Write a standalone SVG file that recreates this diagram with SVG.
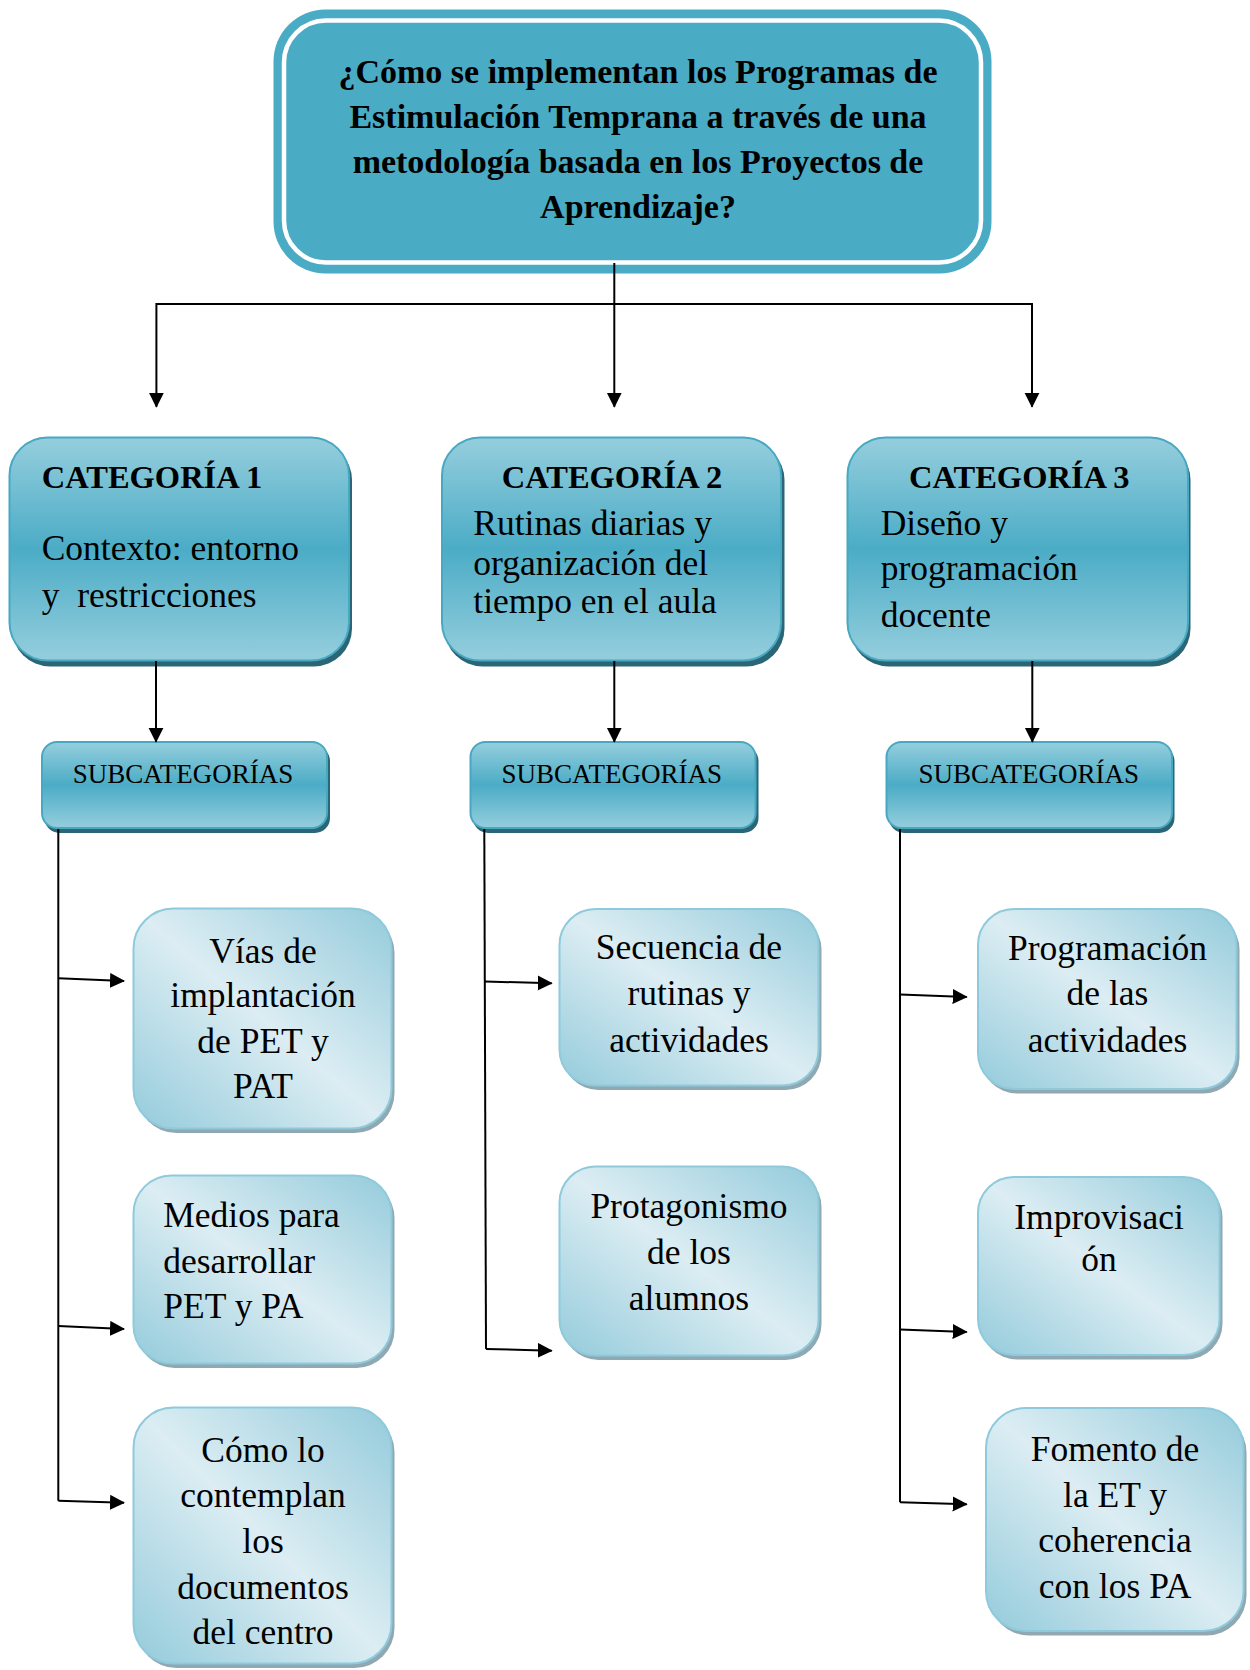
<svg xmlns="http://www.w3.org/2000/svg" width="1250" height="1670" viewBox="0 0 1250 1670">
<defs>
<style>
.txt{font-family:"Liberation Serif","Times New Roman",serif;fill:#000}
.b{font-weight:bold}
.q{font-size:34px}
.cat{font-size:32.5px}
.body{font-size:35.5px}
.sub{font-size:27px}
.mid{text-anchor:middle}
.line{stroke:#000;stroke-width:2;fill:none}
.catbox{fill:url(#gCat);stroke:#47a8c1;stroke-width:2}
.catsh{fill:#2a6676}
.lbox{fill:url(#gLight);stroke:#8ecadb;stroke-width:2}
.lsh{fill:#8fa8b2}
</style>
<linearGradient id="gCat" x1="0" y1="0" x2="0" y2="1">
<stop offset="0" stop-color="#95cedd"/>
<stop offset="0.5" stop-color="#4bacc6"/>
<stop offset="1" stop-color="#95cedd"/>
</linearGradient>
<linearGradient id="gLight" x1="0" y1="1" x2="1" y2="0">
<stop offset="0" stop-color="#94cbdb"/>
<stop offset="0.5" stop-color="#dcedf3"/>
<stop offset="1" stop-color="#94cbdb"/>
</linearGradient>
<marker id="arr" markerUnits="userSpaceOnUse" markerWidth="16" markerHeight="16" refX="14" refY="7.5" orient="auto">
<path d="M0,0 L15,7.5 L0,15 z" fill="#000"/>
</marker>
</defs>
<rect width="1250" height="1670" fill="#fff"/>

<g id="root">
<rect x="273.5" y="9.5" width="718" height="264" rx="52" fill="#4aabc5"/>
<rect x="284" y="20.5" width="697" height="242" rx="42" fill="#4aabc5" stroke="#fff" stroke-width="4.5"/>
<text class="txt b q mid" x="638" y="83.3">¿Cómo se implementan los Programas de</text>
<text class="txt b q mid" x="638" y="128.3">Estimulación Temprana a través de una</text>
<text class="txt b q mid" x="638" y="173.3">metodología basada en los Proyectos de</text>
<text class="txt b q mid" x="638" y="218.3">Aprendizaje?</text>
</g>

<g id="cat1">
<rect class="catsh" x="12" y="442" width="340" height="224.5" rx="38"/>
<rect class="catbox" x="9.5" y="437.5" width="339.5" height="223" rx="38"/>
<text class="txt b cat" x="41.7" y="488.3">CATEGORÍA 1</text>
<text class="txt body" x="41.7" y="560">Contexto: entorno</text>
<text class="txt body" x="41.7" y="606.7" xml:space="preserve">y  restricciones</text>
</g>

<g id="cat2">
<rect class="catsh" x="444.5" y="442" width="340" height="224.5" rx="38"/>
<rect class="catbox" x="442" y="437.5" width="339" height="223" rx="38"/>
<text class="txt b cat mid" x="612" y="488.3">CATEGORÍA 2</text>
<text class="txt body" x="473.3" y="535">Rutinas diarias y</text>
<text class="txt body" x="473.3" y="575">organización del</text>
<text class="txt body" x="473.3" y="613.3">tiempo en el aula</text>
</g>

<g id="cat3">
<rect class="catsh" x="850.5" y="442" width="340" height="224.5" rx="38"/>
<rect class="catbox" x="847.5" y="437.5" width="340.5" height="223" rx="38"/>
<text class="txt b cat mid" x="1019.3" y="488.3">CATEGORÍA 3</text>
<text class="txt body" x="880.7" y="535">Diseño y</text>
<text class="txt body" x="880.7" y="580">programación</text>
<text class="txt body" x="880.7" y="626.7">docente</text>
</g>

<g id="sub1">
<rect class="catsh" x="44.5" y="746" width="285.5" height="87" rx="15"/>
<rect class="catbox" x="42" y="742" width="285" height="86" rx="15"/>
<text class="txt sub mid" x="183" y="782.7">SUBCATEGORÍAS</text>
</g>

<g id="sub2">
<rect class="catsh" x="473" y="746" width="285.5" height="87" rx="15"/>
<rect class="catbox" x="470.5" y="742" width="285" height="86" rx="15"/>
<text class="txt sub mid" x="611.8" y="782.7">SUBCATEGORÍAS</text>
</g>

<g id="sub3">
<rect class="catsh" x="889" y="746" width="285.5" height="87" rx="15"/>
<rect class="catbox" x="886.5" y="742" width="285.5" height="86" rx="15"/>
<text class="txt sub mid" x="1028.8" y="782.7">SUBCATEGORÍAS</text>
</g>

<g id="sc1a">
<rect class="lsh" x="136.5" y="913" width="258" height="220" rx="40"/>
<rect class="lbox" x="133.5" y="908.5" width="258" height="220" rx="40"/>
<text class="txt body mid" x="263" y="962.7">Vías de</text>
<text class="txt body mid" x="263" y="1006.7">implantación</text>
<text class="txt body mid" x="263" y="1052.7">de PET y</text>
<text class="txt body mid" x="263" y="1098.3">PAT</text>
</g>

<g id="sc1b">
<rect class="lsh" x="136.5" y="1180" width="258" height="188" rx="38"/>
<rect class="lbox" x="133.5" y="1175.5" width="258" height="188" rx="38"/>
<text class="txt body" x="163.3" y="1227.3">Medios para</text>
<text class="txt body" x="163.3" y="1273.3">desarrollar</text>
<text class="txt body" x="163.3" y="1318.3">PET y PA</text>
</g>

<g id="sc1c">
<rect class="lsh" x="136.5" y="1412" width="258" height="256" rx="40"/>
<rect class="lbox" x="133.5" y="1407.5" width="258" height="256" rx="40"/>
<text class="txt body mid" x="263" y="1461.7">Cómo lo</text>
<text class="txt body mid" x="263" y="1507.3">contemplan</text>
<text class="txt body mid" x="263" y="1553.3">los</text>
<text class="txt body mid" x="263" y="1599.3">documentos</text>
<text class="txt body mid" x="263" y="1644">del centro</text>
</g>

<g id="sc2a">
<rect class="lsh" x="562.5" y="913.5" width="259" height="176.5" rx="36"/>
<rect class="lbox" x="559.5" y="909" width="259" height="176.5" rx="36"/>
<text class="txt body mid" x="689" y="959.3">Secuencia de</text>
<text class="txt body mid" x="689" y="1005.1">rutinas y</text>
<text class="txt body mid" x="689" y="1052">actividades</text>
</g>

<g id="sc2b">
<rect class="lsh" x="562.5" y="1171" width="259" height="189" rx="36"/>
<rect class="lbox" x="559.5" y="1166.5" width="259" height="189" rx="36"/>
<text class="txt body mid" x="689" y="1217.7">Protagonismo</text>
<text class="txt body mid" x="689" y="1263.6">de los</text>
<text class="txt body mid" x="689" y="1310.1">alumnos</text>
</g>

<g id="sc3a">
<rect class="lsh" x="981" y="913.5" width="258.5" height="180" rx="36"/>
<rect class="lbox" x="978" y="909" width="258.5" height="180" rx="36"/>
<text class="txt body mid" x="1107.5" y="960.3">Programación</text>
<text class="txt body mid" x="1107.5" y="1005.1">de las</text>
<text class="txt body mid" x="1107.5" y="1052">actividades</text>
</g>

<g id="sc3b">
<rect class="lsh" x="981" y="1181.5" width="241.5" height="178" rx="36"/>
<rect class="lbox" x="978" y="1177" width="241.5" height="178" rx="36"/>
<text class="txt body mid" x="1099" y="1229">Improvisaci</text>
<text class="txt body mid" x="1099" y="1271.3">ón</text>
</g>

<g id="sc3c">
<rect class="lsh" x="989" y="1412.5" width="257.5" height="223" rx="40"/>
<rect class="lbox" x="986" y="1408" width="257.5" height="223" rx="40"/>
<text class="txt body mid" x="1115" y="1461">Fomento de</text>
<text class="txt body mid" x="1115" y="1506.7">la ET y</text>
<text class="txt body mid" x="1115" y="1552.3">coherencia</text>
<text class="txt body mid" x="1115" y="1597.7">con los PA</text>
</g>

<g id="connectors">
<path class="line" d="M614.3,263 V406.7" marker-end="url(#arr)"/>
<path class="line" d="M614.3,304 H156.4 V406.7" marker-end="url(#arr)"/>
<path class="line" d="M614.3,304 H1032 V406.7" marker-end="url(#arr)"/>
<path class="line" d="M156,661 V741.7" marker-end="url(#arr)"/>
<path class="line" d="M614.3,661 V741.7" marker-end="url(#arr)"/>
<path class="line" d="M1032.3,661 V741.7" marker-end="url(#arr)"/>
<path class="line" d="M58.3,829 V1500.7"/>
<path class="line" d="M58.3,978.3 L124,981" marker-end="url(#arr)"/>
<path class="line" d="M58.3,1326 L124,1329" marker-end="url(#arr)"/>
<path class="line" d="M58.3,1500.7 L124,1502.7" marker-end="url(#arr)"/>
<path class="line" d="M484.3,829 L486,1349"/>
<path class="line" d="M484.8,981.5 L551.7,983.3" marker-end="url(#arr)"/>
<path class="line" d="M486,1349 L551.7,1350.7" marker-end="url(#arr)"/>
<path class="line" d="M900,829 V1502.3"/>
<path class="line" d="M900,994.5 L966.7,997" marker-end="url(#arr)"/>
<path class="line" d="M900,1329.5 L966.7,1332" marker-end="url(#arr)"/>
<path class="line" d="M900,1502.3 L966.7,1504.3" marker-end="url(#arr)"/>
</g>
</svg>
